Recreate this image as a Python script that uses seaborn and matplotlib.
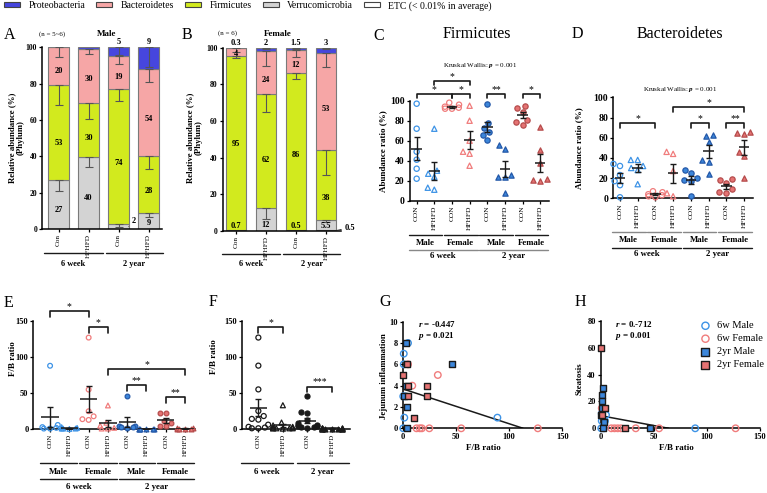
import numpy as np
import pandas as pd
import seaborn as sns
import matplotlib.pyplot as plt
import matplotlib.transforms as mtransforms
from matplotlib.patches import Patch

sns.set_theme(style='ticks')
plt.rcParams['font.family'] = ['Liberation Serif', 'DejaVu Serif']
plt.rcParams['mathtext.fontset'] = 'custom'
plt.rcParams['mathtext.it'] = 'Liberation Serif:italic:bold'
plt.rcParams['mathtext.rm'] = 'Liberation Serif'
for k in ['axes.edgecolor', 'xtick.color', 'ytick.color', 'text.color', 'axes.labelcolor']:
    plt.rcParams[k] = 'black'

# ---------------- data ----------------
phyla = ['Proteobacteria', 'Bacteroidetes', 'Firmicutes', 'Verrucomicrobia', 'ETC (< 0.01% in average)']
phyla_colors = ['#4646de', '#f6a6a6', '#d2ea1e', '#d3d3d3', '#ffffff']

bar_groups = ['Con', 'HFHFD', 'Con', 'HFHFD']

# stacked segments (%), one value per bar
male_etc = [0, 0, 0, 0]
male_verru = [27, 39.5, 2.5, 8.6]
male_firm = [52.5, 30, 74.5, 31.8]
male_bact = [20.5, 29.5, 18, 47.5]
male_proteo = [0, 1, 5, 12.1]
male_verru_err = [21.1, 34.3, 1.3, 6.8]
male_firm_err = [68, 60.4, 70.5, 33]
male_bact_err = [94.9, 96.1, 90.6, 81.1]
male_proteo_err = [None, None, 95.8, 89.4]
male_lab_verru = ['27', '40', '2', '9']
male_lab_firm = ['53', '30', '74', '28']
male_lab_bact = ['20', '30', '19', '54']
male_lab_proteo = ['', '', '5', '9']

female_etc = [0, 0, 0, 0.5]
female_verru = [0.7, 12.4, 0.5, 5.5]
female_firm = [94.8, 62.5, 85.9, 38.2]
female_bact = [4.2, 23.3, 12.1, 53.1]
female_proteo = [0.3, 1.8, 1.5, 2.7]
female_verru_err = [None, 6.4, None, 4.7]
female_firm_err = [94.2, 65.1, 82.9, 30.5]
female_bact_err = [97.8, 90.2, 95.1, 89.3]
female_proteo_err = [None, 99.3, 99.4, 99.3]
female_lab_etc = ['', '', '', '0.5']
female_lab_verru = ['0.7', '12', '0.5', '5.5']
female_lab_firm = ['95', '62', '86', '38']
female_lab_bact = ['4', '24', '12', '53']
female_lab_proteo = ['0.3', '2', '1.5', '3']

# dot plots: male 6w CON/HFHFD, female 6w CON/HFHFD, male 2y, female 2y
dot_ticks = ['CON', 'HFHFD'] * 4
firm_m6_con = [97, 72, 49, 41, 32, 22]
firm_m6_hf = [72, 30, 27, 24, 13, 11]
firm_f6_con = [98, 96, 94, 93, 92, 92]
firm_f6_hf = [95, 80, 60, 49, 47, 35]
firm_m2_con = [97, 78, 73, 69, 66, 61]
firm_m2_hf = [56, 52, 26, 24, 24, 8]
firm_f2_con = [95, 93, 89, 81, 79, 76]
firm_f2_hf = [74, 51, 38, 22, 21, 20]

bact_m6_con = [34, 32, 23, 17, 13, 1]
bact_m6_hf = [38, 38, 32, 30, 28, 14]
bact_f6_con = [7, 6, 4, 3, 2, 1]
bact_f6_hf = [46, 44, 27, 5, 2]
bact_m2_con = [28, 25, 20, 18, 17, 2]
bact_m2_hf = [63, 62, 56, 38, 36, 24]
bact_f2_con = [19, 18, 15, 9, 6, 5]
bact_f2_hf = [66, 65, 64, 46, 42, 20]

fb_m6_con = [88, 6, 3, 2, 1, 1]
fb_m6_hf = [3, 2, 1, 1, 1, 0.5]
fb_f6_con = [127, 55, 25, 18, 14, 13]
fb_f6_hf = [33, 9, 5, 2, 1, 1]
fb_m2_con = [46, 5, 4, 3, 3, 2]
fb_m2_hf = [1, 1, 0.5, 0.5, 0.3, 0.2]
fb_f2_con = [23, 22, 12, 9, 5, 4]
fb_f2_hf = [2, 1.5, 1, 0.5, 0.3, 0.2]

# correlations (F/B ratio vs score)
g_6m_x = [5, 1, 1, 2, 0.5, 89, 0.5, 1.5]
g_6m_y = [8, 7, 6, 3, 3, 1, 0, 1]
g_6f_x = [5, 33, 9, 13, 16, 18, 25, 55, 127]
g_6f_y = [6, 5, 4, 0, 0, 0, 0, 0, 0]
g_2m_x = [3, 46, 3, 3.7, 4.4, 1]
g_2m_y = [8, 6, 4, 2, 0, 3]
g_2f_x = [4.4, 0.5, 4.7, 23, 4.7, 22.5, 10.6]
g_2f_y = [6, 5, 4, 4, 3, 3, 1]
g_fit = (3.7, -0.0327)

h_6m_x = [1, 5, 1, 4, 0.5, 3, 89]
h_6m_y = [11, 10, 5.5, 5.5, 0, 0, 0]
h_6f_x = [1, 10, 13, 16, 19, 33, 55, 127]
h_6f_y = [15, 0, 0, 0, 0, 0, 0, 0]
h_2m_x = [2, 1, 1, 1, 0.5, 3, 46, 2]
h_2m_y = [30, 25, 20, 15, 10, 5, 0, 0]
h_2f_x = [0.5, 4, 1, 22.6]
h_2f_y = [60, 15, 10, 0]
h_fit = (9.4, -0.147)

# ---------------- figure ----------------
W, H = 767, 493
fig = plt.figure(figsize=(W / 100, H / 100), dpi=100)

blue, red = '#3d93e6', '#f07c7c'
blue_f, blue_e = '#3c86da', '#2458a8'
red_f, red_e = '#e57373', '#b54c4c'


def box(x0, y0, x1, y1):
    return fig.add_axes([x0 / W, 1 - y1 / H, (x1 - x0) / W, (y1 - y0) / H])


def ftext(x, y, s, **kw):
    kw.setdefault('ha', 'center')
    kw.setdefault('va', 'center')
    return fig.text(x / W, 1 - y / H, s, **kw)


def group_lines(ax, spans, labels, y_line, y_text, color='k', fs=6.3):
    tr = mtransforms.blended_transform_factory(ax.transData, fig.transFigure)
    for (a, b), lab in zip(spans, labels):
        ax.plot([a, b], [1 - y_line / H] * 2, transform=tr, color=color, lw=1.0, clip_on=False)
        ax.text((a + b) / 2, 1 - y_text / H, lab, transform=tr, ha='center', va='center',
                fontsize=fs, fontweight='bold')


def style_axis(ax, yticks, tick_fs, xt_labels=None, xt_fs=5.3):
    sns.despine(ax=ax)
    ax.set_yticks(yticks)
    ax.set_yticklabels([str(t) for t in yticks], fontsize=tick_fs, fontweight='bold')
    if xt_labels is not None:
        ax.set_xticks(range(len(xt_labels)))
        ax.set_xticklabels(xt_labels, rotation=90, fontsize=xt_fs)
    ax.tick_params(length=2.5, width=0.9, pad=1)
    ax.set_xlabel('')
    ax.set_ylabel('')
    for s in ['left', 'bottom']:
        ax.spines[s].set_linewidth(1.1)


def stacked(ax, segs, errs, labs, leaders, lead_off):
    seg_colors = [phyla_colors[4], phyla_colors[3], phyla_colors[2], phyla_colors[1], phyla_colors[0]]
    x = np.arange(len(segs[0]))
    bottom = np.zeros(len(x))
    for k, (h, c) in enumerate(zip(segs, seg_colors)):
        h = np.array(h, float)
        ax.bar(x, h, bottom=bottom, width=0.667, color=c, edgecolor='#7a7a7a', linewidth=0.8, zorder=2)
        top = bottom + h
        for i in range(len(x)):
            e = errs[k][i]
            if e is not None:
                ax.errorbar(x[i], top[i], yerr=[[top[i] - e], [0]], fmt='none', ecolor='#555555',
                            elinewidth=0.8, capsize=3, capthick=0.8, zorder=3)
            lab = labs[k][i]
            if not lab:
                continue
            kw = dict(ha='center', va='center', fontsize=6, fontweight='bold', zorder=4)
            if (i, k) in leaders:
                ax.annotate(lab, xy=(x[i] + 0.34, (bottom[i] + top[i]) / 2),
                            xytext=(x[i] + lead_off[0], lead_off[1]), ha='left', va='center',
                            fontsize=6, fontweight='bold', annotation_clip=False,
                            arrowprops=dict(arrowstyle='-', lw=0.6, color='k', shrinkA=0, shrinkB=0))
            elif k == len(segs) - 1:
                ax.text(x[i], 102.8, lab, **kw)
            elif h[i] >= 4:
                ax.text(x[i], (bottom[i] + (e if e is not None else top[i])) / 2, lab, **kw)
            else:
                ax.text(x[i], 2.5, lab, **kw)
        bottom = top
    ax.set_ylim(0, 100)


def swarm_panel(ax, series, styles, size, halfw):
    names = ['g%d' % i for i in range(len(series))]
    df = pd.DataFrame({'grp': np.repeat(names, [len(s) for s in series]),
                       'val': np.concatenate(series)})
    for name, (marker, fc, ec) in zip(names, styles):
        sns.swarmplot(data=df[df['grp'] == name], x='grp', y='val', order=names, marker=marker,
                      color=ec, facecolor=fc, edgecolor=ec, linewidth=0.9, size=size,
                      zorder=3, ax=ax, warn_thresh=1)
    # drop the empty collections made for absent categories, let the rest spill over the axes
    for coll in list(ax.collections):
        if len(coll.get_offsets()) == 0:
            coll.remove()
        else:
            coll.set_clip_on(False)
    for i, vals in enumerate(series):
        m = np.mean(vals)
        se = np.std(vals, ddof=1) / np.sqrt(len(vals))
        ax.hlines(m, i - halfw, i + halfw, color='k', lw=1.1, zorder=4)
        ax.errorbar(i, m, yerr=se, fmt='none', ecolor='k', elinewidth=1, capsize=2.5,
                    capthick=1, zorder=4)


def bracket(ax, i, j, y, leg, text, fs=7):
    ax.plot([i, i, j, j], [y - leg, y, y, y - leg], color='k', lw=1.2, clip_on=False)
    ax.text((i + j) / 2, y, text, ha='center', va='bottom', fontsize=fs)


dot_styles = [('o', 'none', blue), ('^', 'none', blue), ('o', 'none', red), ('^', 'none', red),
              ('o', blue_f, blue_e), ('^', blue_f, blue_e), ('o', red_f, red_e), ('^', red_f, red_e)]
sex_spans = [(-0.45, 1.45), (1.55, 3.45), (3.55, 5.45), (5.55, 7.45)]
age_spans = [(-0.45, 3.45), (3.55, 7.45)]

# legend on top
fig.legend(handles=[Patch(facecolor=c, edgecolor='#444444', linewidth=0.8) for c in phyla_colors],
           labels=phyla, loc='upper left', bbox_to_anchor=(0.004, 1.0), ncol=5, frameon=False,
           fontsize=7, handlelength=1.65, handleheight=0.45, handletextpad=0.85,
           columnspacing=1.15, borderaxespad=0, borderpad=0.1)

# ---- A ----
axA = box(42, 47.3, 162, 229)
stacked(axA, [male_etc, male_verru, male_firm, male_bact, male_proteo],
        [[None] * 4, male_verru_err, male_firm_err, male_bact_err, male_proteo_err],
        [[''] * 4, male_lab_verru, male_lab_firm, male_lab_bact, male_lab_proteo],
        leaders=[(2, 1)], lead_off=(0.45, 4.2))
axA.set_xlim(-0.55, 3.45)
style_axis(axA, range(0, 101, 20), 5.5, bar_groups, 5.2)
group_lines(axA, [(-0.47, 1.47), (1.58, 3.47)], ['6 week', '2 year'], 252.7, 264, fs=6)
ftext(10, 35, 'A', fontsize=11.5)
ftext(52, 34, '(n = 5~6)', fontsize=5)
ftext(107, 34, 'Male', fontsize=6.5, fontweight='bold')
ftext(16.5, 138, 'Relative abundance (%)\n(Phylum)', rotation=90, fontsize=6.3, fontweight='bold',
      linespacing=1.1)

# ---- B ----
axB = box(222.5, 47.7, 341, 231)
stacked(axB, [female_etc, female_verru, female_firm, female_bact, female_proteo],
        [[None] * 4, female_verru_err, female_firm_err, female_bact_err, female_proteo_err],
        [female_lab_etc, female_lab_verru, female_lab_firm, female_lab_bact, female_lab_proteo],
        leaders=[(3, 0)], lead_off=(0.62, 1.8))
axB.set_xlim(-0.45, 3.5)
style_axis(axB, range(0, 101, 20), 5.5, bar_groups, 5.2)
group_lines(axB, [(-0.48, 1.47), (1.58, 3.47)], ['6 week', '2 year'], 254.3, 264, fs=6)
ftext(187, 35, 'B', fontsize=11.5)
ftext(228, 33, '(n = 6)', fontsize=5)
ftext(278, 34, 'Female', fontsize=6.5, fontweight='bold')
ftext(194, 138, 'Relative abundance (%)\n(Phylum)', rotation=90, fontsize=6.3, fontweight='bold',
      linespacing=1.1)

# ---- C ----
axC = box(409.6, 100.7, 549, 200.7)
swarm_panel(axC, [firm_m6_con, firm_m6_hf, firm_f6_con, firm_f6_hf,
                  firm_m2_con, firm_m2_hf, firm_f2_con, firm_f2_hf], dot_styles, 3.8, 0.3)
axC.set_xlim(-0.4, 7.5)
axC.set_ylim(0, 100)
style_axis(axC, range(0, 101, 20), 7, dot_ticks)
group_lines(axC, sex_spans, ['Male', 'Female', 'Male', 'Female'], 235, 243.3)
group_lines(axC, age_spans, ['6 week', '2 year'], 250, 256.5, color='#888888')
for i, j, y, t in [(1, 3, 120, '*'), (0, 2, 107, '*'), (2, 3, 107, '*'), (4, 5, 107, '**'),
                   (6, 7, 107, '*')]:
    bracket(axC, i, j, y, 4, t)
ftext(480, 65.7, r'Kruskal Wallis: $p$ = 0.001', fontsize=5)
ftext(379, 36, 'C', fontsize=11.5)
ftext(476.7, 34.3, 'Firmicutes', fontsize=11.5)
ftext(383, 150.7, 'Abundance ratio (%)', rotation=90, fontsize=6.5, fontweight='bold')

# ---- D ----
axD = box(612.9, 97.3, 752.8, 198.3)
swarm_panel(axD, [bact_m6_con, bact_m6_hf, bact_f6_con, bact_f6_hf,
                  bact_m2_con, bact_m2_hf, bact_f2_con, bact_f2_hf], dot_styles, 3.8, 0.3)
axD.set_xlim(-0.4, 7.5)
axD.set_ylim(0, 100)
style_axis(axD, range(0, 101, 20), 7, dot_ticks)
group_lines(axD, sex_spans, ['Male', 'Female', 'Male', 'Female'], 231.7, 240, color='#888888')
group_lines(axD, age_spans, ['6 week', '2 year'], 247.7, 254.3)
for i, j, y, t in [(0, 2, 74.5, '*'), (3, 7, 90, '*'), (4, 5, 74.5, '*'), (6, 7, 74.5, '**')]:
    bracket(axD, i, j, y, 5, t)
ftext(680, 89.3, r'Kruskal Wallis: $p$ = 0.001', fontsize=5)
ftext(577, 34.3, 'D', fontsize=11.5)
ftext(680, 34.3, 'Bacteroidetes', fontsize=11.5)
ftext(579, 147.8, 'Abundance ratio (%)', rotation=90, fontsize=6.5, fontweight='bold')

# ---- E ----
axE = box(33.3, 321, 194.7, 429.3)
fb_series = [fb_m6_con, fb_m6_hf, fb_f6_con, fb_f6_hf, fb_m2_con, fb_m2_hf, fb_f2_con, fb_f2_hf]
swarm_panel(axE, fb_series, dot_styles, 3.4, 0.45)
axE.set_xlim(-0.87, 7.5)
axE.set_ylim(0, 150)
style_axis(axE, [0, 50, 100, 150], 6, dot_ticks, 4.9)
group_lines(axE, [(-0.52, 1.42), (1.52, 3.45), (3.55, 5.45), (5.55, 7.45)],
            ['Male', 'Female', 'Male', 'Female'], 462.7, 471.7)
group_lines(axE, [(-0.52, 3.45), (3.55, 7.45)], ['6 week', '2 year'], 479.3, 486.7)
for i, j, y, t in [(0, 2, 164, '*'), (2, 3, 141, '*'), (3, 7, 83, '*'), (4, 5, 61, '**'),
                   (6, 7, 45, '**')]:
    bracket(axE, i, j, y, 8, t)
ftext(8, 303, 'E', fontsize=11.5)
ftext(12.7, 359, 'F/B ratio', rotation=90, fontsize=6.5, fontweight='bold')

# ---- F ----
axF = box(241.7, 321, 350, 429)
swarm_panel(axF, [fb_m6_con + fb_f6_con, fb_m6_hf + fb_f6_hf, fb_m2_con + fb_f2_con,
                  fb_m2_hf + fb_f2_hf],
            [('o', 'none', 'k'), ('^', 'none', 'k'), ('o', 'k', 'k'), ('^', 'k', 'k')], 3.6, 0.35)
axF.set_xlim(-0.68, 3.74)
axF.set_ylim(0, 150)
style_axis(axF, [0, 50, 100, 150], 6, ['CON', 'HFHFD', 'CON', 'HFHFD'], 4.9)
group_lines(axF, [(-0.72, 1.43), (1.57, 3.7)], ['6 week', '2 year'], 462.7, 471.7)
bracket(axF, 0, 1, 142, 8, '*')
bracket(axF, 2, 3, 59, 8, '***')
ftext(213, 302, 'F', fontsize=11.5)
ftext(214, 357, 'F/B ratio', rotation=90, fontsize=6.5, fontweight='bold')


# ---- G & H ----
def corr_panel(ax, sets, fit, ylim, yticks):
    for (xs, ys, marker, fc, ec, lab) in sets:
        sns.scatterplot(x=xs, y=ys, marker=marker, facecolor=fc, edgecolor=ec, linewidth=1.0,
                        s=22, clip_on=False, zorder=3, label=lab, ax=ax, legend=False)
    x_end = -fit[0] / fit[1]
    xs = np.array([0, x_end])
    ax.plot(xs, fit[0] + fit[1] * xs, color='k', lw=1.1, zorder=2)
    ax.set_xlim(0, 150)
    ax.set_ylim(*ylim)
    style_axis(ax, yticks, 6)
    ax.set_xticks([0, 50, 100, 150])
    ax.set_xticklabels(['0', '50', '100', '150'], fontsize=6, fontweight='bold')


axG = box(402.7, 321.7, 562.3, 428.3)
corr_panel(axG, [(g_6m_x, g_6m_y, 'o', 'none', blue, '6w Male'),
                 (g_6f_x, g_6f_y, 'o', 'none', red, '6w Female'),
                 (g_2m_x, g_2m_y, 's', blue_f, 'k', '2yr Male'),
                 (g_2f_x, g_2f_y, 's', red_f, 'k', '2yr Female')],
           g_fit, (0, 10), range(0, 11, 2))
ftext(385, 302, 'G', fontsize=11.5)
ftext(418, 324, r'$r$ = -0.447', ha='left', fontsize=6.5, fontweight='bold')
ftext(418, 335.5, r'$p$ = 0.021', ha='left', fontsize=6.5, fontweight='bold')
ftext(483, 448, 'F/B ratio', fontsize=6.5, fontweight='bold')
ftext(384, 376, 'Jejunum inflammation', rotation=90, fontsize=6.3, fontweight='bold')

axH = box(600.7, 321, 760, 428.3)
corr_panel(axH, [(h_6m_x, h_6m_y, 'o', 'none', blue, '6w Male'),
                 (h_6f_x, h_6f_y, 'o', 'none', red, '6w Female'),
                 (h_2m_x, h_2m_y, 's', blue_f, 'k', '2yr Male'),
                 (h_2f_x, h_2f_y, 's', red_f, 'k', '2yr Female')],
           h_fit, (0, 80), range(0, 81, 20))
axH.legend(loc='upper left', bbox_to_anchor=(694 / W, 1 - 316 / H), bbox_transform=fig.transFigure,
           frameon=False, fontsize=7.5, handletextpad=0.5, labelspacing=0.35, borderpad=0,
           handlelength=1.2, markerscale=1.1)
ftext(580, 302, 'H', fontsize=11.5)
ftext(615, 324, r'$r$ = 0.-712', ha='left', fontsize=6.5, fontweight='bold')
ftext(615, 335.5, r'$p$ = 0.001', ha='left', fontsize=6.5, fontweight='bold')
ftext(676, 448, 'F/B ratio', fontsize=6.5, fontweight='bold')
ftext(580, 379, 'Steatosis', rotation=90, fontsize=6.3, fontweight='bold')

fig.savefig('out.png', dpi=100)
